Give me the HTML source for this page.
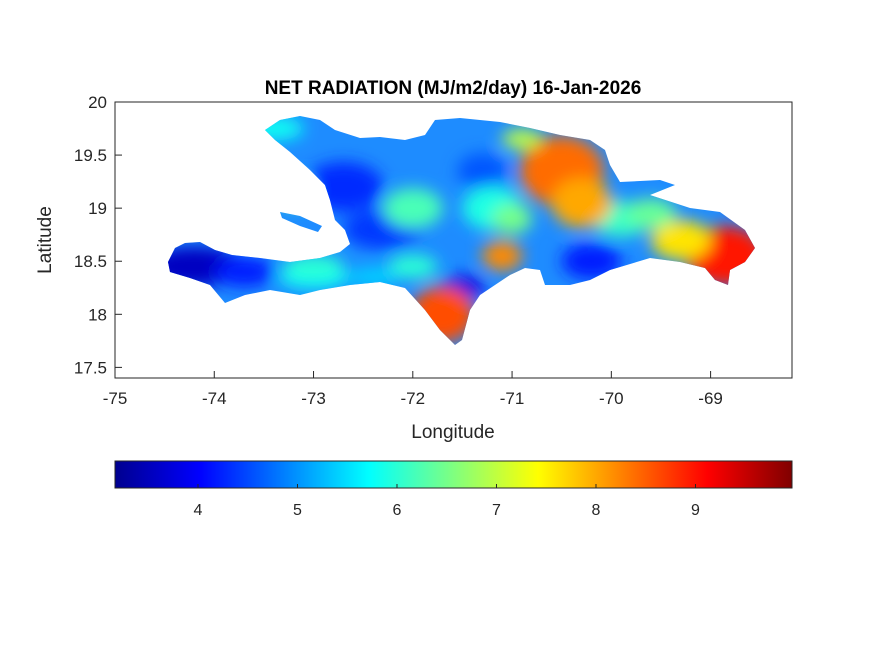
<!DOCTYPE html>
<html><head><meta charset="utf-8"><style>
body{margin:0;background:#fff;}
svg{display:block;font-family:"Liberation Sans",Arial,sans-serif;}
</style></head><body>
<svg id="chart" width="875" height="656">
<defs>
<linearGradient id="jet" x1="0" x2="1" y1="0" y2="0">
<stop offset="0" stop-color="#00008f"/><stop offset="0.125" stop-color="#0000ff"/>
<stop offset="0.375" stop-color="#00ffff"/><stop offset="0.625" stop-color="#ffff00"/>
<stop offset="0.875" stop-color="#ff0000"/><stop offset="1" stop-color="#800000"/>
</linearGradient>
<filter id="blur" x="-50%" y="-50%" width="200%" height="200%"><feGaussianBlur stdDeviation="8"/></filter>
<clipPath id="island"><polygon id="islandPoly" points=""/><polygon points="280,212 300,216 322,226 318,232 300,226 282,218"/></clipPath>
</defs>
<text x="453" y="94" text-anchor="middle" font-size="19" font-weight="bold">NET RADIATION (MJ/m2/day) 16-Jan-2026</text>
<g id="map" clip-path="url(#island)"></g>
<rect x="115" y="102" width="677" height="276" fill="none" stroke="#262626" stroke-width="1"/>
<g id="axes"></g>
<text x="453" y="438" text-anchor="middle" font-size="19" fill="#262626">Longitude</text>
<text transform="translate(51,240) rotate(-90)" text-anchor="middle" font-size="19" fill="#262626">Latitude</text>
<rect x="115" y="461" width="677" height="27" fill="url(#jet)" stroke="#262626" stroke-width="1"/>
<g id="cbticks"></g>
</svg>
<script>
const xTicks=[-75,-74,-73,-72,-71,-70,-69];
const yTicks=[20,19.5,19,18.5,18,17.5];
const cbTicks=[4,5,6,7,8,9];
const lonMin=-75,lonMax=-68.18,latMin=17.4,latMax=20;
const cbMin=3.166,cbMax=9.97;
const X=v=>115+(v-lonMin)/(lonMax-lonMin)*677;
const Y=v=>378-(v-latMin)/(latMax-latMin)*276;
const C=v=>115+(v-cbMin)/(cbMax-cbMin)*677;
const NS="http://www.w3.org/2000/svg";
function mk(t,a,p){const e=document.createElementNS(NS,t);for(const k in a)e.setAttribute(k,a[k]);p.appendChild(e);return e;}
const ax=document.getElementById('axes');
xTicks.forEach(v=>{const x=X(v);
 const l=mk('line',{x1:x,x2:x,y1:378,y2:371,stroke:'#262626'},ax);
 
 
 const t=mk('text',{x:x,y:404,'text-anchor':'middle','font-size':17,fill:'#262626'},ax);t.textContent=v;
 
 });
yTicks.forEach(v=>{const y=Y(v);
 const l=mk('line',{x1:115,x2:122,y1:y,y2:y,stroke:'#262626'},ax);
 
 
 const t=mk('text',{x:107,y:y+6,'text-anchor':'end','font-size':17,fill:'#262626'},ax);t.textContent=v;
 
 });
const cb=document.getElementById('cbticks');
cbTicks.forEach(v=>{const x=C(v);
 mk('line',{x1:x,x2:x,y1:488,y2:484,stroke:'#262626'},cb);
 const t=mk('text',{x:x,y:515,'text-anchor':'middle','font-size':16,fill:'#262626'},cb);t.textContent=v;
 
 });
const outline="168,262 175,248 185,243 200,242 215,250 232,255 260,258 290,262 320,258 340,252 350,244 345,230 335,220 330,200 325,185 310,170 290,152 275,140 265,130 280,120 300,116 320,120 335,130 360,138 380,137 405,140 425,135 435,120 460,118 500,122 530,128 560,135 590,140 605,150 610,165 620,182 660,180 675,185 650,195 690,208 720,212 745,230 755,248 745,262 730,270 728,285 715,280 705,268 680,262 650,258 610,270 590,280 570,285 545,285 540,270 525,268 510,275 495,285 480,295 470,310 462,340 455,345 440,330 425,310 405,288 380,282 350,285 320,290 300,295 270,290 245,295 225,303 210,285 190,278 170,272";
document.getElementById('islandPoly').setAttribute('points',outline);
const map=document.getElementById('map');
mk('rect',{x:150,y:100,width:620,height:260,fill:'#1e8cff'},map);
// blobs: lon, lat, radius x/y (px), value
const blobLon=[-74.2,-73.7,-73.0,-72.7,-72.3,-71.3,-70.2,-71.5,-73.0,-72.0,-71.2,-69.9,-73.4,-72.0,-73.2,-70.5,-70.3,-68.85,-69.3,-71.7,-71.1,-70.9,-69.6,-72.4,-71.0];
const blobLat=[18.45,18.4,18.35,19.2,18.8,19.35,18.5,18.25,18.45,19.0,19.0,18.9,19.75,18.45,19.15,19.35,19.05,18.55,18.7,18.0,18.55,19.65,18.95,18.35,18.9];
const blobRx=[50,30,35,40,40,25,30,22,30,30,30,30,30,25,20,42,30,40,30,32,20,20,25,25,20];
const blobRy=[20,15,12,25,20,18,18,12,12,20,22,18,12,12,15,35,25,30,20,28,15,10,15,10,15];
const blobVal=[3.6,4.2,5.8,4.3,4.4,4.6,4.2,3.8,6.0,6.2,5.9,6.1,5.8,6.0,6.2,8.4,8.0,9.0,7.6,8.6,8.2,7.0,6.4,5.4,6.5];
function jet(v){const t=(v-cbMin)/(cbMax-cbMin);
 const f=x=>Math.max(0,Math.min(1,x));
 const r=f(Math.min(4*t-1.5,-4*t+4.5)),g=f(Math.min(4*t-0.5,-4*t+3.5)),b=f(Math.min(4*t+0.5,-4*t+2.5));
 return `rgb(${Math.round(r*255)},${Math.round(g*255)},${Math.round(b*255)})`;}
const bg=mk('g',{filter:'url(#blur)'},map);
blobLon.forEach((lo,i)=>{const e=mk('ellipse',{cx:X(lo),cy:Y(blobLat[i]),rx:blobRx[i],ry:blobRy[i],fill:jet(blobVal[i])},bg);
 
 });
</script>
</body></html>
